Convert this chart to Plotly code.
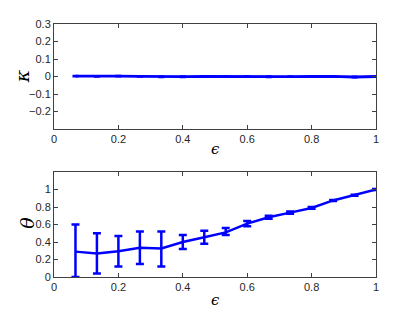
import plotly.graph_objects as go
from plotly.subplots import make_subplots

# epsilon values (15 steps of 1/15)
eps = [0.0667, 0.1333, 0.2, 0.2667, 0.3333, 0.4, 0.4667, 0.5333,
       0.6, 0.6667, 0.7333, 0.8, 0.8667, 0.9333, 1.0]

# kappa (top panel)
kappa = [0.002, 0.0, 0.002, 0.001, -0.002, -0.001, 0.0, -0.001,
         0.001, -0.002, -0.001, 0.0, 0.001, -0.003, 0.0]
kappa_err = [0.002, 0.002, 0.002, 0.002, 0.002, 0.003, 0.003, 0.002,
             0.002, 0.003, 0.002, 0.002, 0.002, 0.003, 0.002]

# theta (bottom panel)
theta = [0.29, 0.27, 0.295, 0.335, 0.325, 0.40, 0.455, 0.51,
         0.61, 0.683, 0.736, 0.789, 0.875, 0.936, 1.0]
theta_hi = [0.60, 0.50, 0.47, 0.52, 0.52, 0.48, 0.528, 0.56,
            0.64, 0.70, 0.75, 0.80, 0.88, 0.94, 1.005]
theta_lo = [0.0, 0.04, 0.12, 0.15, 0.12, 0.32, 0.38, 0.48,
            0.58, 0.665, 0.722, 0.779, 0.868, 0.93, 0.995]

blue = "rgb(0,0,255)"

fig = make_subplots(rows=2, cols=1, vertical_spacing=0.17)

fig.add_trace(go.Scatter(
    x=eps, y=kappa, mode="lines",
    line=dict(color=blue, width=2.8),
    error_y=dict(type="data", array=kappa_err, color=blue, thickness=2, width=3),
), row=1, col=1)

fig.add_trace(go.Scatter(
    x=eps, y=theta, mode="lines",
    line=dict(color=blue, width=2.5),
    error_y=dict(type="data", symmetric=False,
                 array=[h - t for h, t in zip(theta_hi, theta)],
                 arrayminus=[t - l for t, l in zip(theta, theta_lo)],
                 color=blue, thickness=2.5, width=4),
), row=2, col=1)

axis_style = dict(showline=True, mirror="ticks", linecolor="#404040", linewidth=1,
                  ticks="inside", ticklen=4, tickcolor="#404040", showgrid=False,
                  zeroline=False, automargin=False,
                  tickfont=dict(family="Liberation Sans, Arial", size=11, color="#262626"))

fig.update_xaxes(range=[0, 1], tickvals=[0, 0.2, 0.4, 0.6, 0.8, 1],
                 ticktext=["0", "0.2", "0.4", "0.6", "0.8", "1"], **axis_style)

fig.update_yaxes(range=[-0.3, 0.3], tickvals=[-0.2, -0.1, 0, 0.1, 0.2, 0.3],
                 ticktext=["\u22120.2", "\u22120.1", "0", "0.1", "0.2", "0.3"],
                 row=1, col=1, **axis_style)
fig.update_yaxes(range=[0, 1.2], tickvals=[0, 0.2, 0.4, 0.6, 0.8, 1],
                 ticktext=["0", "0.2", "0.4", "0.6", "0.8", "1"],
                 row=2, col=1, **axis_style)

# axis labels as paper annotations (plot area: 322 x 253 px)
label_font = dict(family="DejaVu Serif", size=19, color="black")
eps_font = dict(family="DejaVu Serif", size=15, color="black")
labels = [
    dict(text="<i>κ</i>", x=-0.099, y=0.794, textangle=-90, font=label_font),
    dict(text="<i>θ</i>", x=-0.085, y=0.213, textangle=-90, font=label_font),
    dict(text="<i>ϵ</i>", x=0.5, y=0.505, textangle=0, font=eps_font),
    dict(text="<i>ϵ</i>", x=0.5, y=-0.09, textangle=0, font=eps_font),
]
for lab in labels:
    fig.add_annotation(xref="paper", yref="paper", showarrow=False,
                       xanchor="center", yanchor="middle", **lab)

# the page body adds an 8 px offset, so the figure is drawn 8 px smaller
fig.update_layout(
    width=407, height=305,
    margin=dict(l=46, r=39, t=16, b=36),
    paper_bgcolor="white", plot_bgcolor="white",
    showlegend=False,
)

fig.write_html("out.html")
